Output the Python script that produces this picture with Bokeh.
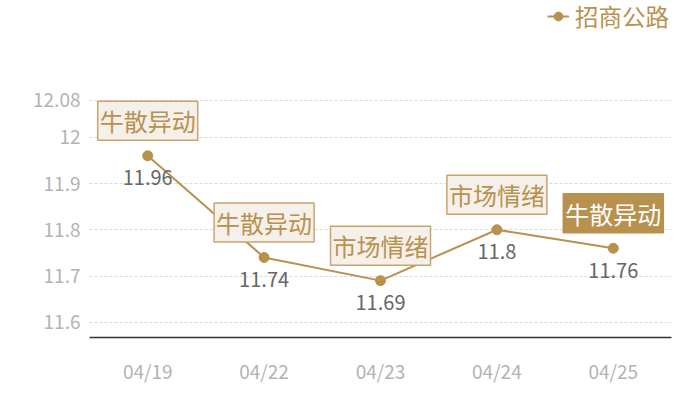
from bokeh.plotting import figure
from bokeh.models import (FactorRange, Range1d, FixedTicker, CustomJSTickFormatter,
                          ColumnDataSource, Legend, LegendItem)
from bokeh.core.properties import value
from bokeh.embed import file_html
from bokeh.resources import INLINE

dates = ["04/19", "04/22", "04/23", "04/24", "04/25"]
prices = [11.96, 11.74, 11.69, 11.8, 11.76]
marks = ["牛散异动", "牛散异动", "市场情绪", "市场情绪", "牛散异动"]
highlight = [False, False, False, False, True]
y_ticks = [11.6, 11.7, 11.8, 11.9, 12.0, 12.08]
series_name = "招商公路"

GOLD = "#b8914f"
FONT = "Noto Sans CJK SC"

# frame spans page y 0..337; 12.08 sits at y=100, 0.1 = 46.3 px
p = figure(width=684, height=392, x_range=FactorRange(factors=dates, range_padding=0),
           y_range=Range1d(11.567, 12.296), output_backend="svg", toolbar_location=None,
           min_border_left=89, min_border_right=13, min_border_top=0, min_border_bottom=55)
p.outline_line_color = None
p.background_fill_color = "white"

# axes
p.xgrid.grid_line_color = None
p.ygrid.grid_line_color = "#d9d9d9"
p.ygrid.grid_line_dash = "3 2"
p.ygrid.grid_line_width = 1
p.yaxis.ticker = FixedTicker(ticks=y_ticks)
p.yaxis.formatter = CustomJSTickFormatter(code="return String(Math.round(tick*100)/100)")
p.yaxis.axis_line_color = None
p.yaxis.major_tick_line_color = None
p.yaxis.minor_tick_line_color = None
p.yaxis.major_label_text_color = "#b3b3b3"
p.yaxis.major_label_text_font = FONT
p.yaxis.major_label_text_font_size = "19px"
p.yaxis.major_label_standoff = 3

p.xaxis.axis_line_color = "#333333"
p.xaxis.axis_line_width = 1.5
p.xaxis.major_tick_line_color = None
p.xaxis.minor_tick_line_color = None
p.xaxis.major_label_text_color = "#b3b3b3"
p.xaxis.major_label_text_font = FONT
p.xaxis.major_label_text_font_size = "19px"
p.xaxis.major_label_standoff = 13

src = ColumnDataSource(dict(x=dates, y=prices, lbl=[str(v) for v in prices], mark=marks))
hsrc = ColumnDataSource(dict(x=[d for d, h in zip(dates, highlight) if h],
                             y=[v for v, h in zip(prices, highlight) if h],
                             mark=[m for m, h in zip(marks, highlight) if h]))
nsrc = ColumnDataSource(dict(x=[d for d, h in zip(dates, highlight) if not h],
                             y=[v for v, h in zip(prices, highlight) if not h],
                             mark=[m for m, h in zip(marks, highlight) if not h]))

line_r = p.line("x", "y", source=src, line_color=GOLD, line_width=2)
dot_r = p.scatter("x", "y", source=src, size=10, fill_color=GOLD, line_color=GOLD)

p.text("x", "y", text="lbl", source=src, y_offset=22, text_align="center",
       text_baseline="middle", text_color="#666666", text_font=value(FONT),
       text_font_size="20px")

p.text("x", "y", text="mark", source=nsrc, y_offset=-35, text_align="center",
       text_baseline="middle", text_color=GOLD, text_font=value(FONT),
       text_font_size="24px", background_fill_color="#f5f0ea",
       border_line_color="#c9a46d", border_line_width=1.5, padding=2)
p.text("x", "y", text="mark", source=hsrc, y_offset=-35, text_align="center",
       text_baseline="middle", text_color="white", text_font=value(FONT),
       text_font_size="24px", background_fill_color=GOLD,
       border_line_color=GOLD, border_line_width=1.5, padding=2)

legend = Legend(items=[LegendItem(label=series_name, renderers=[line_r, dot_r])],
                location=(458, 304), padding=0, margin=0, glyph_width=22, glyph_height=24,
                label_standoff=6, border_line_color=None, background_fill_alpha=0,
                label_text_color=GOLD, label_text_font=FONT, label_text_font_size="23.5px")
p.add_layout(legend, "center")

open("out.html", "w").write(file_html(p, INLINE))
